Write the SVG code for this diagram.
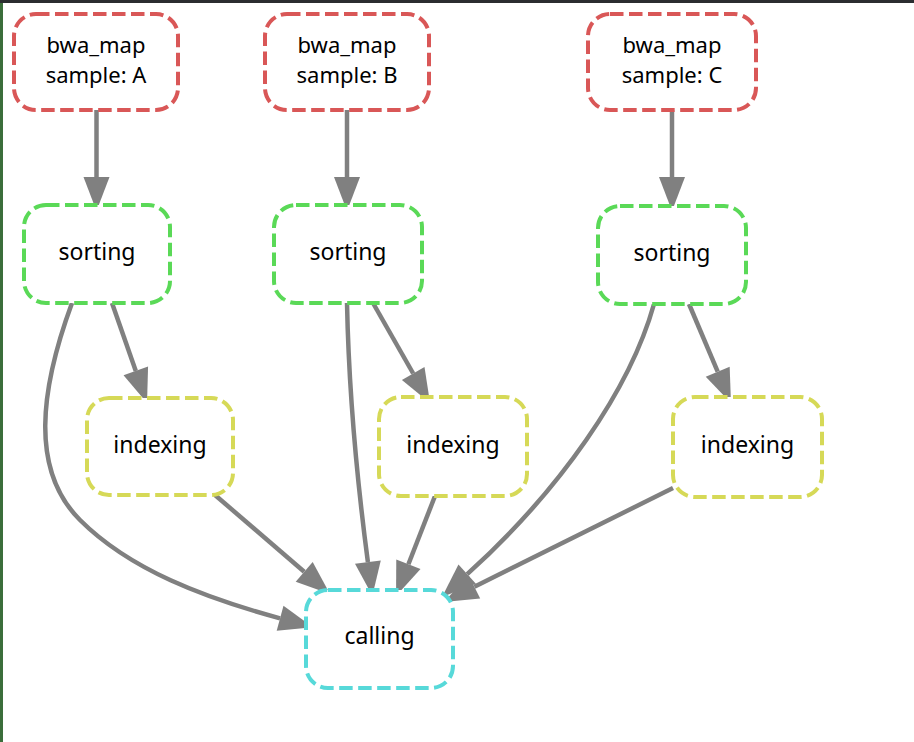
<svg xmlns="http://www.w3.org/2000/svg" width="914" height="742" viewBox="0 0 914 742">
<style>
.node rect{fill:#ffffff;stroke-width:4;stroke-dasharray:13.5 5.5}
.bwa rect{stroke:#d95757}
.sort rect{stroke:#5ad957}
.idx rect{stroke:#d6d957}
.call rect{stroke:#57d9d9}
.node text{font-family:"Noto Sans","DejaVu Sans",sans-serif;font-size:23px;fill:#000000;text-anchor:middle}
.bwa text{font-size:22px}
.edges path{fill:none;stroke:#808080;stroke-width:4.5;marker-end:url(#arr)}
</style>
<defs>
<marker id="arr" markerUnits="userSpaceOnUse" viewBox="0 -13 34 26" refX="0" refY="0" markerWidth="34" markerHeight="26" orient="auto" overflow="visible">
<path d="M0,-13 L34,0 L0,13 z" fill="#808080"/>
</marker>
</defs>
<rect x="0" y="0" width="914" height="742" fill="#ffffff"/>
<rect x="0" y="0" width="914" height="3" fill="#2b2d30"/>
<rect x="0" y="3" width="3" height="739" fill="#3b6e3b"/>
<g class="edges" id="edges">
<path d="M96.5,110 L96.5,177"/>
<path d="M347,110 L347,177"/>
<path d="M672,110 L672,177"/>
<path d="M112,303 L135.8,370.9"/>
<path d="M373,303 L413.2,373.5"/>
<path d="M689,304 L717.7,371.7"/>
<path d="M215,495 L304.2,571.8"/>
<path d="M435,496 L408.4,564.3"/>
<path d="M673,488 L474.4,586.8"/>
<path d="M347,303 C349,400 357,480 367.9,562.1"/>
<path d="M654,304 C630,390 560,490 467.2,574.2"/>
<path d="M72,303 C40,390 30,470 80,520 C130,570 205,598 280.1,618.3"/>
</g>
<g id="bwa_map_A" class="node bwa"><rect x="14" y="14" width="164" height="96" rx="22"/><text x="96" y="53">bwa_map</text><text x="96" y="83">sample: A</text></g>
<g id="bwa_map_B" class="node bwa"><rect x="265" y="14" width="164" height="96" rx="22"/><text x="347" y="53">bwa_map</text><text x="347" y="83">sample: B</text></g>
<g id="bwa_map_C" class="node bwa"><rect x="588" y="14" width="168" height="96" rx="22"/><text x="672" y="53">bwa_map</text><text x="672" y="83">sample: C</text></g>
<g id="sorting_A" class="node sort"><rect x="24" y="205" width="146" height="98" rx="22"/><text x="97" y="260">sorting</text></g>
<g id="sorting_B" class="node sort"><rect x="274" y="205" width="148" height="98" rx="22"/><text x="348" y="260">sorting</text></g>
<g id="sorting_C" class="node sort"><rect x="598" y="206" width="148" height="98" rx="22"/><text x="672" y="261">sorting</text></g>
<g id="indexing_A" class="node idx"><rect x="87" y="398" width="146" height="97" rx="22"/><text x="160" y="453">indexing</text></g>
<g id="indexing_B" class="node idx"><rect x="379" y="397" width="148" height="99" rx="22"/><text x="453" y="453">indexing</text></g>
<g id="indexing_C" class="node idx"><rect x="673" y="397" width="149" height="100" rx="22"/><text x="747.5" y="453">indexing</text></g>
<g id="calling" class="node call"><rect x="306" y="590" width="147" height="98" rx="22"/><text x="379.5" y="644">calling</text></g>
</svg>
